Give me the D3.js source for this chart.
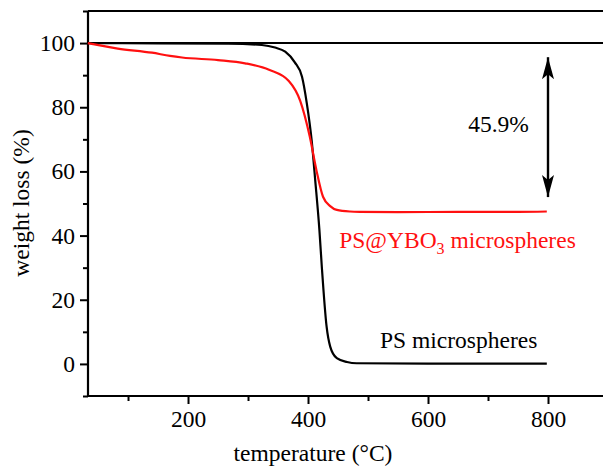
<!DOCTYPE html>
<html><head><meta charset="utf-8">
<script src="https://cdn.jsdelivr.net/npm/d3@7"></script>
<style>
body{margin:0;background:#fff;}
svg{display:block;}
text{font-family:"Liberation Serif","Times New Roman",serif;}
</style></head>
<body>
<svg id="c" width="603" height="468"></svg>
<script>
// temperature (°C) and weight (%) for PS@YBO3 microspheres (red)
const redTemp = [33, 83, 140, 170, 190, 250, 295, 335, 368, 387, 403, 414, 425, 437, 448, 470, 487, 550, 650, 750, 798];
const redWeight = [100, 98.3, 97.0, 96.0, 95.5, 94.7, 93.7, 91.7, 88.2, 82, 70.8, 60.4, 52.1, 49.2, 48.0, 47.5, 47.4, 47.3, 47.4, 47.4, 47.5];
// PS microspheres (black)
const blackTemp = [33, 150, 267, 323, 345, 362, 378, 390, 398, 406, 412, 419, 423, 431, 437, 448, 465, 481, 600, 798];
const blackWeight = [100, 99.9, 99.8, 99.4, 98.6, 97.3, 94.0, 89.5, 81.2, 69.8, 57.3, 41.7, 30.3, 11.6, 5.4, 1.8, 0.6, 0.2, 0.1, 0.1];
const xMajorTicks = [200, 400, 600, 800];
const xMinorTicks = [100, 300, 500, 700];
const yMajorTicks = [0, 20, 40, 60, 80, 100];
const yMinorTicks = [-10, 10, 30, 50, 70, 90, 110];
const refLine = [100];
const arrowX = 800, arrowTop = 95.6, arrowBottom = 52;
const annotations = [
  {text: "45.9%", x: 667, y: 72.3, color: "#000"},
];

const FS = 23.5;
const svg = d3.select("#c");
const x = d3.scaleLinear().domain([33.3, 900]).range([88, 608]);
const y = d3.scaleLinear().domain([-10, 110]).range([396, 11]);

// frame
svg.append("line").attr("x1", x(33.3)).attr("x2", 608).attr("y1", y(110)).attr("y2", y(110)).attr("stroke", "#000").attr("stroke-width", 2);
svg.append("line").attr("x1", x(33.3)).attr("x2", 608).attr("y1", y(refLine[0])).attr("y2", y(refLine[0])).attr("stroke", "#000").attr("stroke-width", 2);

// axes
const xAxis = svg.append("g").attr("transform", `translate(0,${y(-10)})`)
  .call(d3.axisBottom(x).tickValues(xMajorTicks).tickSize(8).tickPadding(6).tickFormat(d3.format("d")));
svg.append("g").attr("transform", `translate(0,${y(-10)})`)
  .call(d3.axisBottom(x).tickValues(xMinorTicks).tickSize(5).tickFormat(""))
  .select(".domain").remove();
const yAxis = svg.append("g").attr("transform", `translate(${x(33.3)},0)`)
  .call(d3.axisLeft(y).tickValues(yMajorTicks).tickSize(8).tickPadding(5).tickFormat(d3.format("d")));
svg.append("g").attr("transform", `translate(${x(33.3)},0)`)
  .call(d3.axisLeft(y).tickValues(yMinorTicks).tickSize(5).tickFormat(""))
  .select(".domain").remove();
svg.selectAll(".domain").attr("stroke", "#000").attr("stroke-width", 2.2);
xAxis.select(".domain").attr("d", `M${x(33.3)},0H608`);
yAxis.select(".domain").attr("d", `M0,${y(110)}V${y(-10)}`);
svg.selectAll(".tick line").attr("stroke", "#000").attr("stroke-width", 2);
svg.selectAll("g").attr("font-family", null);
svg.selectAll(".tick text").attr("font-size", FS).attr("fill", "#000");

// curves
const line = d3.line().x(d => x(d[0])).y(d => y(d[1])).curve(d3.curveMonotoneX);
svg.append("path").datum(d3.zip(blackTemp, blackWeight)).attr("d", line)
  .attr("fill", "none").attr("stroke", "#000").attr("stroke-width", 2.2);
svg.append("path").datum(d3.zip(redTemp, redWeight)).attr("d", line)
  .attr("fill", "none").attr("stroke", "#ff1010").attr("stroke-width", 2.2);

// arrow
const defs = svg.append("defs");
defs.append("marker").attr("id", "ah").attr("viewBox", "0 0 22 12").attr("refX", 22).attr("refY", 6)
  .attr("markerWidth", 22).attr("markerHeight", 12).attr("markerUnits", "userSpaceOnUse").attr("orient", "auto")
  .append("path").attr("d", "M0,0L22,6L0,12L5,6Z").attr("fill", "#000");
defs.append("marker").attr("id", "ah2").attr("viewBox", "0 0 22 12").attr("refX", 0).attr("refY", 6)
  .attr("markerWidth", 22).attr("markerHeight", 12).attr("markerUnits", "userSpaceOnUse").attr("orient", "auto")
  .append("path").attr("d", "M22,0L0,6L22,12L17,6Z").attr("fill", "#000");
svg.append("line").attr("x1", x(arrowX)).attr("x2", x(arrowX)).attr("y1", y(arrowBottom)).attr("y2", y(arrowTop))
  .attr("stroke", "#000").attr("stroke-width", 2.4)
  .attr("marker-end", "url(#ah)").attr("marker-start", "url(#ah2)");

// annotations
annotations.forEach(a => {
  svg.append("text").attr("x", x(a.x)).attr("y", y(a.y)).attr("font-size", FS).attr("fill", a.color).text(a.text);
});
const red = svg.append("text").attr("x", x(452)).attr("y", y(36.1)).attr("font-size", FS).attr("fill", "#ff1010");
red.append("tspan").text("PS@YBO");
red.append("tspan").attr("font-size", 16).attr("dy", 6).text("3");
red.append("tspan").attr("dy", -6).text(" microspheres");
svg.append("text").attr("x", x(520)).attr("y", y(5)).attr("font-size", FS).attr("fill", "#000").text("PS microspheres");

// axis titles
svg.append("text").attr("x", 313).attr("y", 461).attr("text-anchor", "middle").attr("font-size", FS).text("temperature (°C)");
svg.append("text").attr("transform", "translate(29,203) rotate(-90)").attr("text-anchor", "middle").attr("font-size", FS).text("weight loss (%)");
</script>
</body></html>
